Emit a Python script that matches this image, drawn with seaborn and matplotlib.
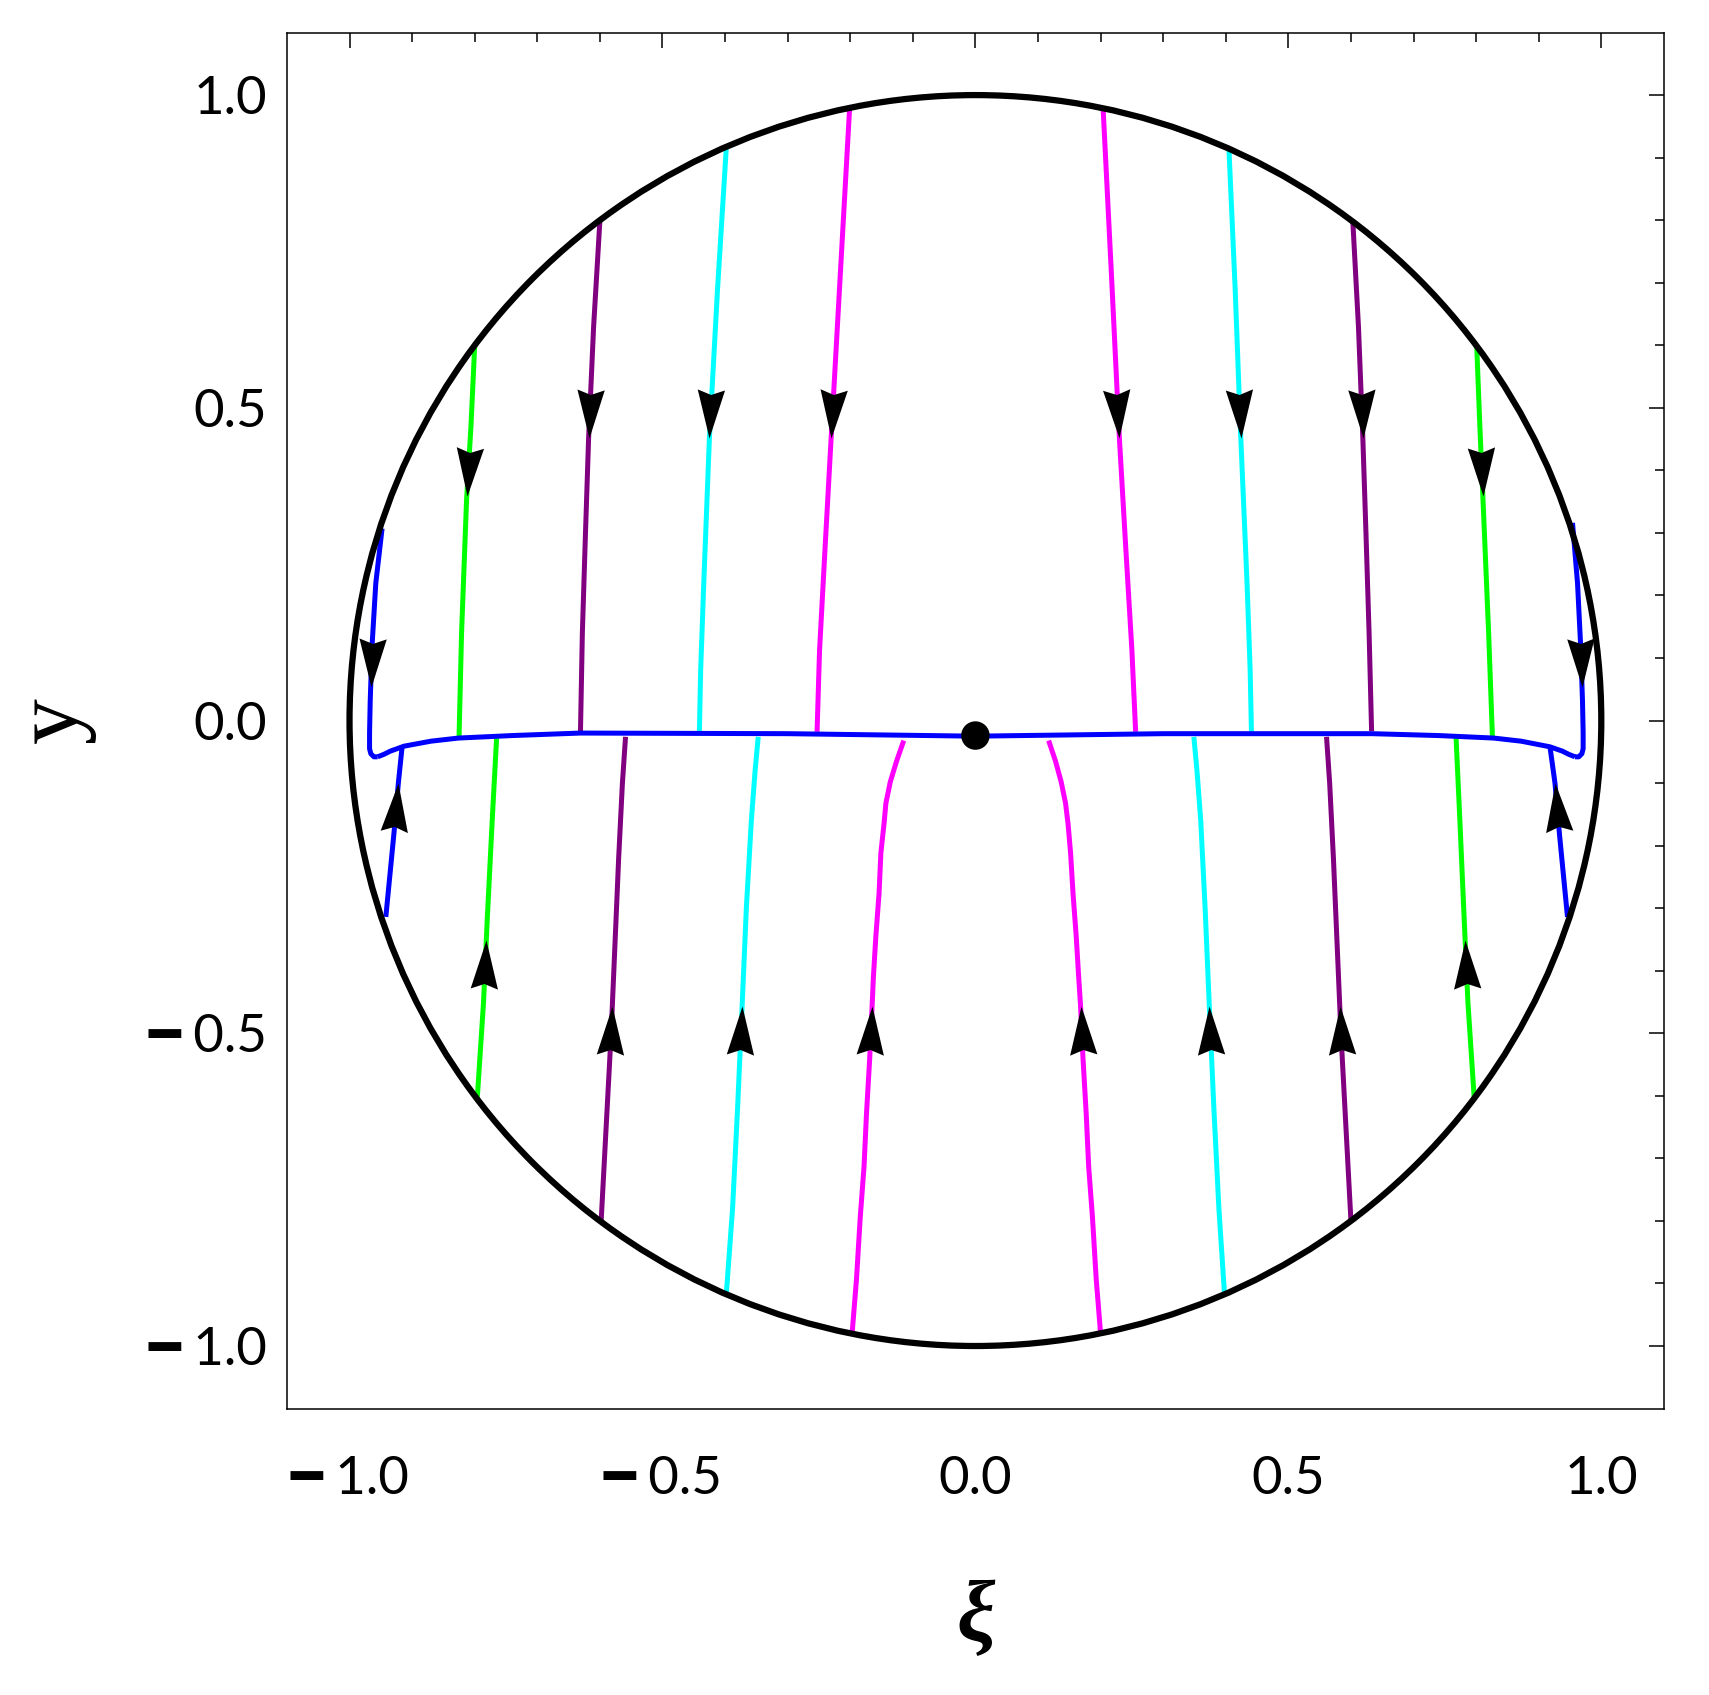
import numpy as np
import matplotlib
matplotlib.use("Agg")
import matplotlib.pyplot as plt
import seaborn as sns
from matplotlib.path import Path
from matplotlib.markers import MarkerStyle
from matplotlib.transforms import Affine2D
from matplotlib.patches import Circle

# ---------------- data ----------------
# trajectories listed from their start on the circle to their end near y ~ 0
mag_ul_x = [-0.201, -0.2155, -0.2305, -0.240, -0.249, -0.253]
mag_ul_y = [0.979, 0.72, 0.452, 0.28, 0.113, -0.018]
mag_ur_x = [0.204, 0.217, 0.230, 0.240, 0.250, 0.256]
mag_ur_y = [0.979, 0.72, 0.452, 0.28, 0.113, -0.018]
mag_ll_x = [-0.197, -0.190, -0.184, -0.178, -0.174, -0.169, -0.165, -0.163, -0.159,
            -0.154, -0.151, -0.146, -0.143, -0.136, -0.126, -0.1145]
mag_ll_y = [-0.980, -0.893, -0.794, -0.714, -0.628, -0.542, -0.456, -0.410, -0.344,
            -0.277, -0.211, -0.165, -0.132, -0.098, -0.065, -0.032]
mag_lr_x = [0.200, 0.193, 0.187, 0.181, 0.177, 0.172, 0.168, 0.165, 0.161,
            0.156, 0.152, 0.148, 0.144, 0.137, 0.128, 0.117]
mag_lr_y = [-0.980, -0.893, -0.794, -0.714, -0.628, -0.542, -0.456, -0.410, -0.344,
            -0.277, -0.211, -0.165, -0.132, -0.098, -0.065, -0.032]

cyan_ul_x = [-0.398, -0.412, -0.425, -0.434, -0.439, -0.441]
cyan_ul_y = [0.916, 0.69, 0.452, 0.22, 0.08, -0.018]
cyan_ur_x = [0.405, 0.415, 0.424, 0.434, 0.439, 0.441]
cyan_ur_y = [0.916, 0.69, 0.452, 0.22, 0.08, -0.018]
cyan_ll_x = [-0.398, -0.388, -0.380, -0.373, -0.366, -0.358, -0.352, -0.347]
cyan_ll_y = [-0.917, -0.780, -0.620, -0.463, -0.300, -0.160, -0.080, -0.026]
cyan_lr_x = [0.398, 0.389, 0.381, 0.374, 0.367, 0.360, 0.354, 0.349]
cyan_lr_y = [-0.917, -0.780, -0.620, -0.463, -0.300, -0.160, -0.080, -0.026]

pur_ul_x = [-0.600, -0.610, -0.618, -0.623, -0.628, -0.631]
pur_ul_y = [0.799, 0.63, 0.452, 0.30, 0.14, -0.017]
pur_ur_x = [0.603, 0.612, 0.619, 0.624, 0.629, 0.633]
pur_ur_y = [0.798, 0.63, 0.452, 0.30, 0.14, -0.017]
pur_ll_x = [-0.598, -0.590, -0.582, -0.576, -0.570, -0.564, -0.559]
pur_ll_y = [-0.801, -0.650, -0.500, -0.360, -0.220, -0.100, -0.026]
pur_lr_x = [0.600, 0.592, 0.584, 0.578, 0.572, 0.566, 0.561]
pur_lr_y = [-0.800, -0.650, -0.500, -0.360, -0.220, -0.100, -0.026]

grn_ul_x = [-0.800, -0.806, -0.813, -0.821, -0.825]
grn_ul_y = [0.600, 0.47, 0.353, 0.14, -0.025]
grn_ur_x = [0.801, 0.806, 0.811, 0.820, 0.826]
grn_ur_y = [0.598, 0.47, 0.353, 0.14, -0.025]
grn_ll_x = [-0.796, -0.786, -0.780, -0.772, -0.765]
grn_ll_y = [-0.605, -0.452, -0.319, -0.159, -0.028]
grn_lr_x = [0.797, 0.787, 0.781, 0.774, 0.768]
grn_lr_y = [-0.604, -0.452, -0.319, -0.159, -0.028]

blue_ul_x = [-0.948, -0.958, -0.964, -0.967, -0.968, -0.968, -0.966, -0.961, -0.955]
blue_ul_y = [0.307, 0.220, 0.120, 0.030, -0.020, -0.045, -0.053, -0.058, -0.058]
blue_ur_x = [0.954, 0.962, 0.967, 0.970, 0.971, 0.971, 0.969, 0.964, 0.958]
blue_ur_y = [0.316, 0.220, 0.120, 0.030, -0.020, -0.045, -0.053, -0.058, -0.058]
blue_ll_x = [-0.942, -0.929, -0.922, -0.916]
blue_ll_y = [-0.314, -0.180, -0.100, -0.042]
blue_lr_x = [0.946, 0.933, 0.926, 0.918]
blue_lr_y = [-0.314, -0.180, -0.100, -0.042]
blue_h_x = [-0.955, -0.945, -0.935, -0.913, -0.870, -0.826, -0.740, -0.631, -0.30, 0.0,
            0.30, 0.634, 0.740, 0.828, 0.872, 0.918, 0.938, 0.948, 0.958]
blue_h_y = [-0.058, -0.054, -0.049, -0.041, -0.033, -0.028, -0.024, -0.020, -0.021, -0.025,
            -0.021, -0.021, -0.024, -0.028, -0.033, -0.042, -0.049, -0.054, -0.058]

# y value of the arrow tip on each family of trajectories
arrow_y_mid_up, arrow_y_mid_low = 0.452, -0.456
arrow_y_grn_up, arrow_y_grn_low = 0.359, -0.351
arrow_y_blue_up, arrow_y_blue_low = 0.054, -0.100

fixed_point_x = [0.0]
fixed_point_y = [-0.024]
circle_radius = 1.0

x_ticks = [-1.0, -0.5, 0.0, 0.5, 1.0]
x_tick_labels = ["\u2501 1.0", "\u2501 0.5", "0.0", "0.5", "1.0"]
y_ticks = [-1.0, -0.5, 0.0, 0.5, 1.0]
y_tick_labels = ["\u2501 1.0", "\u2501 0.5", "0.0", "0.5", "1.0"]

MAGENTA, CYAN, PURPLE, GREEN, BLUE = "#ff00ff", "#00ffff", "#800080", "#00ff00", "#0000ff"

trajectories = [
    (mag_ul_x, mag_ul_y, MAGENTA, arrow_y_mid_up), (mag_ur_x, mag_ur_y, MAGENTA, arrow_y_mid_up),
    (mag_ll_x, mag_ll_y, MAGENTA, arrow_y_mid_low), (mag_lr_x, mag_lr_y, MAGENTA, arrow_y_mid_low),
    (cyan_ul_x, cyan_ul_y, CYAN, arrow_y_mid_up), (cyan_ur_x, cyan_ur_y, CYAN, arrow_y_mid_up),
    (cyan_ll_x, cyan_ll_y, CYAN, arrow_y_mid_low), (cyan_lr_x, cyan_lr_y, CYAN, arrow_y_mid_low),
    (pur_ul_x, pur_ul_y, PURPLE, arrow_y_mid_up), (pur_ur_x, pur_ur_y, PURPLE, arrow_y_mid_up),
    (pur_ll_x, pur_ll_y, PURPLE, arrow_y_mid_low), (pur_lr_x, pur_lr_y, PURPLE, arrow_y_mid_low),
    (grn_ul_x, grn_ul_y, GREEN, arrow_y_grn_up), (grn_ur_x, grn_ur_y, GREEN, arrow_y_grn_up),
    (grn_ll_x, grn_ll_y, GREEN, arrow_y_grn_low), (grn_lr_x, grn_lr_y, GREEN, arrow_y_grn_low),
    (blue_ul_x, blue_ul_y, BLUE, arrow_y_blue_up), (blue_ur_x, blue_ur_y, BLUE, arrow_y_blue_up),
    (blue_ll_x, blue_ll_y, BLUE, arrow_y_blue_low), (blue_lr_x, blue_lr_y, BLUE, arrow_y_blue_low),
    (blue_h_x, blue_h_y, BLUE, None),
]

# ---------------- style ----------------
sns.set_theme(style="white")
plt.rcParams["font.family"] = ["Lato", "DejaVu Sans"]
plt.rcParams["axes.unicode_minus"] = True

fig = plt.figure(figsize=(17.09, 16.95), dpi=100)
ax = fig.add_axes([0.1679, 0.1690, 0.8057, 0.8118])
ax.set_xlim(-1.1, 1.1)
ax.set_ylim(-1.1, 1.1)

LW = 3.6
for xs, ys, col, _ in trajectories:
    if col == BLUE:
        continue
    sns.lineplot(x=xs, y=ys, ax=ax, color=col, linewidth=LW, sort=False,
                 estimator=None, legend=False, zorder=2)
for xs, ys, col, _ in trajectories:
    if col != BLUE:
        continue
    sns.lineplot(x=xs, y=ys, ax=ax, color=col, linewidth=LW, sort=False,
                 estimator=None, legend=False, zorder=3)
for line in ax.get_lines():
    line.set_solid_joinstyle("round")
    line.set_solid_capstyle("butt")

ax.add_patch(Circle((0, 0), circle_radius, fill=False, edgecolor="black",
                    linewidth=4.5, zorder=4))

# arrow heads (notched triangle, tip at the origin, pointing down)
head = Path([(0, 0), (13.5, 48), (0, 43), (-13.5, 48), (0, 0)],
            [Path.MOVETO, Path.LINETO, Path.LINETO, Path.LINETO, Path.CLOSEPOLY])
for xs, ys, col, ay in trajectories:
    if ay is None:
        continue
    xs_a = np.asarray(xs); ys_a = np.asarray(ys)
    order = np.argsort(ys_a)
    xo, yo = xs_a[order], ys_a[order]
    ax_x = np.interp(ay, yo, xo)
    k = np.searchsorted(yo, ay)
    k = min(max(k, 1), len(yo) - 1)
    dx = xo[k] - xo[k - 1]
    dy = yo[k] - yo[k - 1]
    if ys_a[-1] < ys_a[0]:  # flow goes down
        dx, dy = -dx, -dy
    ang = np.degrees(np.arctan2(dy, dx)) + 90.0
    m = MarkerStyle(head, transform=Affine2D().rotate_deg(ang))
    ax.plot([ax_x], [ay], linestyle="none", marker=m, markersize=70,
            color="black", markeredgewidth=0, zorder=5)

sns.scatterplot(x=fixed_point_x, y=fixed_point_y, ax=ax, s=420, color="black",
                edgecolor="none", zorder=6, legend=False)

# axes / ticks
for sp in ax.spines.values():
    sp.set_linewidth(1.1)
    sp.set_color("black")
ax.set_xticks(x_ticks)
ax.set_xticklabels(x_tick_labels)
ax.set_yticks(y_ticks)
ax.set_yticklabels(y_tick_labels)
ax.set_xticks(np.round(np.arange(-1.0, 1.01, 0.1), 2), minor=True)
ax.set_yticks(np.round(np.arange(-1.0, 1.01, 0.1), 2), minor=True)
ax.tick_params(which="both", direction="in", top=True, right=True, color="black", width=1.1)
ax.tick_params(which="major", length=10.8)
ax.tick_params(which="minor", length=6.3)
ax.tick_params(axis="x", which="major", pad=34, labelsize=38, labelcolor="black")
ax.tick_params(axis="y", which="major", pad=14, labelsize=38, labelcolor="black")
for t in ax.get_xticklabels() + ax.get_yticklabels():
    t.set_fontweight("normal")

ax.set_xlabel("\u03be", fontsize=62, fontfamily=["Liberation Serif", "DejaVu Serif"],
              fontstyle="italic", fontweight="bold", color="black")
ax.set_ylabel("y", fontsize=66, fontfamily=["Liberation Serif", "DejaVu Serif"],
              color="black")
ax.xaxis.set_label_coords(0.5, -0.125)
ax.yaxis.set_label_coords(-0.139, 0.5)
ax.grid(False)

fig.savefig("out.png", dpi=100, facecolor="white")
